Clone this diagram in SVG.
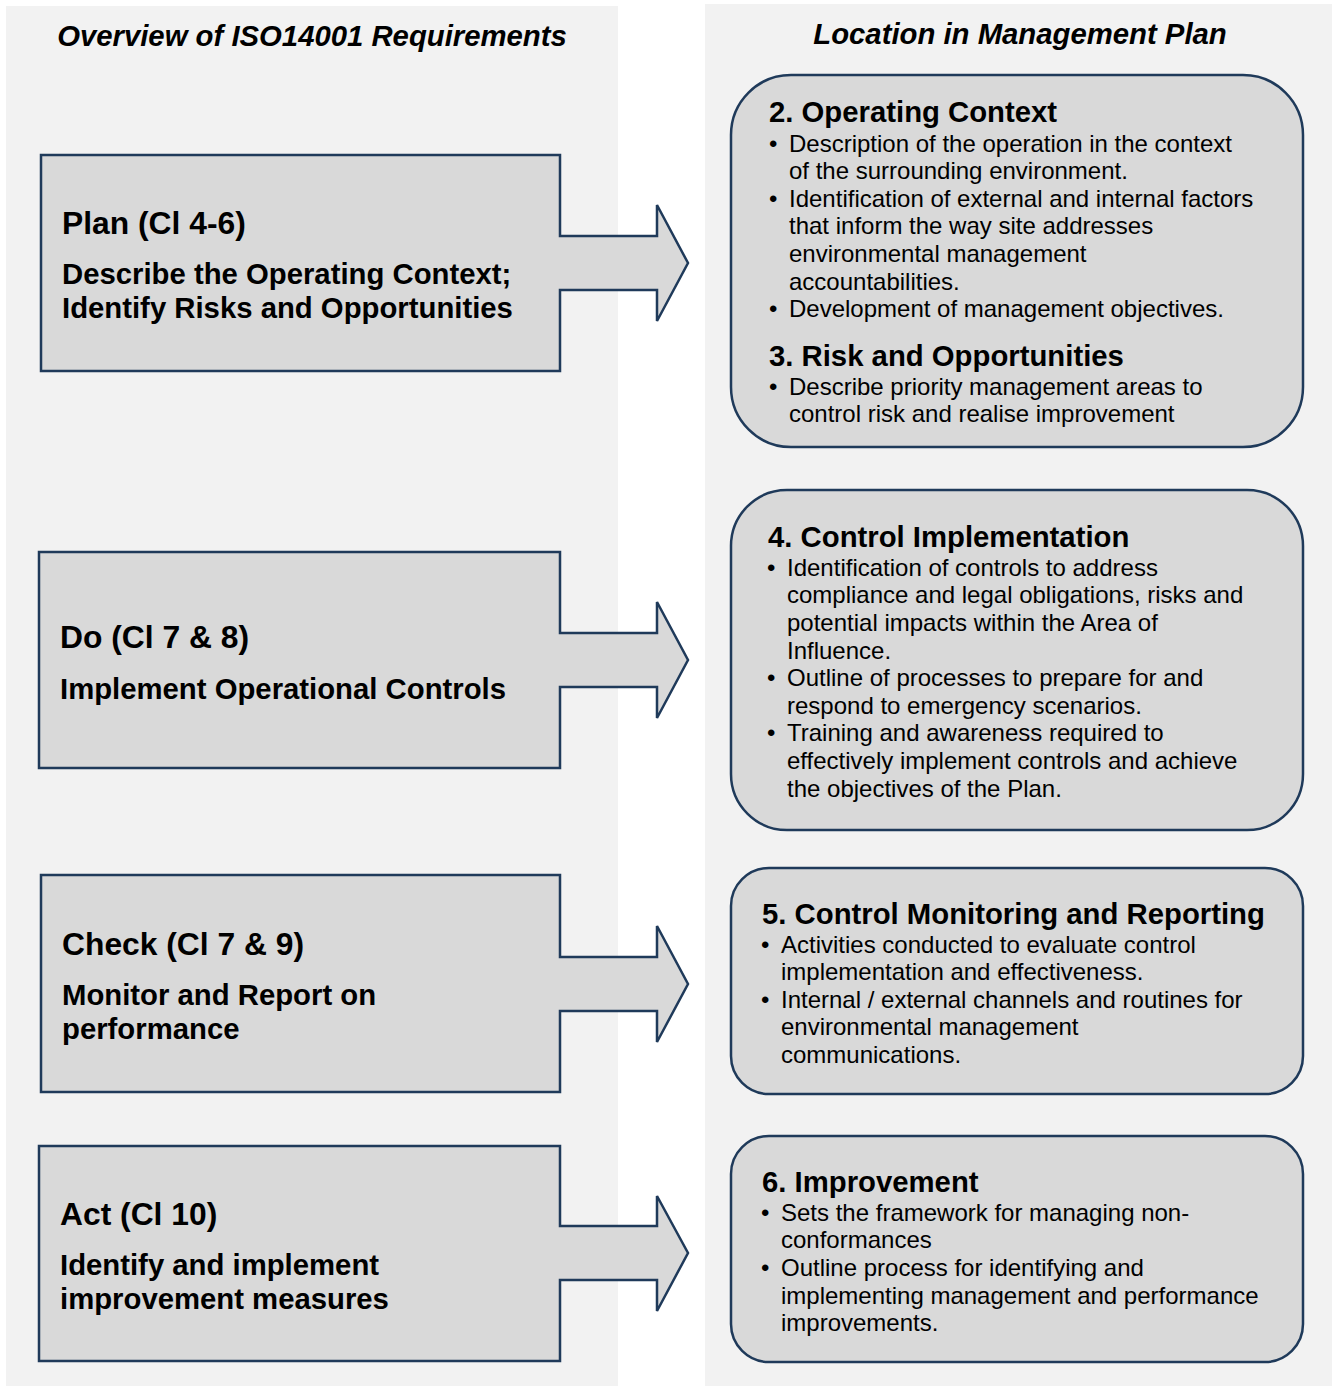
<svg xmlns="http://www.w3.org/2000/svg" width="1332" height="1388" viewBox="0 0 1332 1388">
  <style>
    .panel { fill: #f2f2f2; }
    .shape { fill: #d9d9d9; stroke: #1f3a5a; stroke-width: 2.5; stroke-linejoin: miter; }
    text { font-family: "Liberation Sans", Arial, sans-serif; fill: #000; }
    .hdr { font-size: 29.3px; font-weight: bold; font-style: italic; }
    .ltitle { font-size: 31.8px; font-weight: bold; }
    .lsub { font-size: 29.3px; font-weight: bold; }
    .rtitle { font-size: 29.3px; font-weight: bold; }
    .bul { font-size: 24px; }
  </style>

  <!-- background columns -->
  <rect class="panel" x="6" y="6" width="612" height="1380"/>
  <rect class="panel" x="705" y="4" width="627" height="1382"/>

  <text class="hdr" x="312" y="46" text-anchor="middle">Overview of ISO14001 Requirements</text>
  <text class="hdr" x="1020" y="44" text-anchor="middle">Location in Management Plan</text>

  <!-- PDCA stages: box with right-pointing arrow -->
  <g id="plan">
    <path class="shape" d="M41,155 H560 V236 H657 V205 L688,263 L657,321 V290 H560 V371 H41 Z"/>
    <text class="ltitle" x="62" y="233.5">Plan (Cl 4-6)</text>
    <text class="lsub" x="62" y="283.5">Describe the Operating Context;</text>
    <text class="lsub" x="62" y="317.5">Identify Risks and Opportunities</text>
  </g>

  <g id="do">
    <path class="shape" d="M39,552 H560 V633 H657 V602 L688,660 L657,718 V687 H560 V768 H39 Z"/>
    <text class="ltitle" x="60" y="647.5">Do (Cl 7 &amp; 8)</text>
    <text class="lsub" x="60" y="698.5">Implement Operational Controls</text>
  </g>

  <g id="check">
    <path class="shape" d="M41,875 H560 V957 H657 V926 L688,984 L657,1042 V1011 H560 V1092 H41 Z"/>
    <text class="ltitle" x="62" y="954.5">Check (Cl 7 &amp; 9)</text>
    <text class="lsub" x="62" y="1004.5">Monitor and Report on</text>
    <text class="lsub" x="62" y="1038.5">performance</text>
  </g>

  <g id="act">
    <path class="shape" d="M39,1146 H560 V1226 H657 V1196 L688,1253 L657,1311 V1280 H560 V1361 H39 Z"/>
    <text class="ltitle" x="60" y="1224.5">Act (Cl 10)</text>
    <text class="lsub" x="60" y="1274.5">Identify and implement</text>
    <text class="lsub" x="60" y="1308.5">improvement measures</text>
  </g>

  <!-- management plan sections -->
  <g id="sec-context-risk">
    <rect class="shape" x="731" y="75" width="572" height="372" rx="60" ry="60"/>
    <text class="rtitle" x="769" y="122">2. Operating Context</text>
    <g class="bul">
      <text x="769" y="151.6">•</text>
      <text x="789" y="151.6">Description of the operation in the context</text>
      <text x="789" y="178.6">of the surrounding environment.</text>
      <text x="769" y="206.6">•</text>
      <text x="789" y="206.6">Identification of external and internal factors</text>
      <text x="789" y="233.6">that inform the way site addresses</text>
      <text x="789" y="261.6">environmental management</text>
      <text x="789" y="289.6">accountabilities.</text>
      <text x="769" y="316.6">•</text>
      <text x="789" y="316.6">Development of management objectives.</text>
    </g>
    <text class="rtitle" x="769" y="365.5">3. Risk and Opportunities</text>
    <g class="bul">
      <text x="769" y="394.6">•</text>
      <text x="789" y="394.6">Describe priority management areas to</text>
      <text x="789" y="421.6">control risk and realise improvement</text>
    </g>
  </g>

  <g id="sec-control">
    <rect class="shape" x="731" y="490" width="572" height="340" rx="56" ry="56"/>
    <text class="rtitle" x="768" y="546.5">4. Control Implementation</text>
    <g class="bul">
      <text x="767" y="575.6">•</text>
      <text x="787" y="575.6">Identification of controls to address</text>
      <text x="787" y="602.6">compliance and legal obligations, risks and</text>
      <text x="787" y="630.6">potential impacts within the Area of</text>
      <text x="787" y="658.6">Influence.</text>
      <text x="767" y="685.6">•</text>
      <text x="787" y="685.6">Outline of processes to prepare for and</text>
      <text x="787" y="713.6">respond to emergency scenarios.</text>
      <text x="767" y="740.6">•</text>
      <text x="787" y="740.6">Training and awareness required to</text>
      <text x="787" y="768.6">effectively implement controls and achieve</text>
      <text x="787" y="796.6">the objectives of the Plan.</text>
    </g>
  </g>

  <g id="sec-monitoring">
    <rect class="shape" x="731" y="868" width="572" height="226" rx="38" ry="38"/>
    <text class="rtitle" x="762" y="923.5">5. Control Monitoring and Reporting</text>
    <g class="bul">
      <text x="761" y="952.6">•</text>
      <text x="781" y="952.6">Activities conducted to evaluate control</text>
      <text x="781" y="979.6">implementation and effectiveness.</text>
      <text x="761" y="1007.6">•</text>
      <text x="781" y="1007.6">Internal / external channels and routines for</text>
      <text x="781" y="1034.6">environmental management</text>
      <text x="781" y="1062.6">communications.</text>
    </g>
  </g>

  <g id="sec-improvement">
    <rect class="shape" x="731" y="1136" width="572" height="226" rx="38" ry="38"/>
    <text class="rtitle" x="762" y="1191.5">6. Improvement</text>
    <g class="bul">
      <text x="761" y="1220.6">•</text>
      <text x="781" y="1220.6">Sets the framework for managing non-</text>
      <text x="781" y="1247.6">conformances</text>
      <text x="761" y="1275.6">•</text>
      <text x="781" y="1275.6">Outline process for identifying and</text>
      <text x="781" y="1303.6">implementing management and performance</text>
      <text x="781" y="1330.6">improvements.</text>
    </g>
  </g>
</svg>
